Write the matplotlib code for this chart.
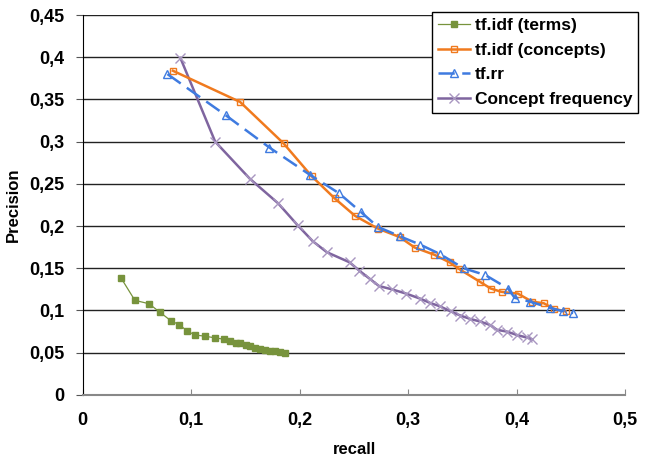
import matplotlib
matplotlib.use("Agg")
import matplotlib.pyplot as plt
from matplotlib.ticker import FuncFormatter

plt.rcParams['font.family'] = ['Liberation Sans', 'DejaVu Sans']

# tf.idf (terms)
terms_r = [0.035, 0.048, 0.061, 0.071, 0.081, 0.089, 0.096, 0.103, 0.113, 0.122,
           0.130, 0.136, 0.141, 0.145, 0.150, 0.154, 0.159, 0.163, 0.168, 0.173,
           0.177, 0.182, 0.186]
terms_p = [0.139, 0.112, 0.108, 0.098, 0.088, 0.083, 0.076, 0.071, 0.0695, 0.0675,
           0.066, 0.064, 0.062, 0.061, 0.059, 0.0575, 0.0555, 0.054, 0.053, 0.052,
           0.0515, 0.051, 0.0497]

# tf.idf (concepts)
conc_r = [0.083, 0.145, 0.185, 0.211, 0.232, 0.251, 0.272, 0.292, 0.306, 0.324,
          0.338, 0.347, 0.366, 0.376, 0.386, 0.401, 0.414, 0.425, 0.434, 0.445]
conc_p = [0.384, 0.347, 0.298, 0.259, 0.233, 0.212, 0.197, 0.187, 0.1745, 0.166,
          0.157, 0.149, 0.134, 0.126, 0.122, 0.120, 0.1105, 0.1085, 0.102, 0.099]

# tf.rr
rr_r = [0.078, 0.132, 0.172, 0.209, 0.236, 0.256, 0.272, 0.292, 0.311, 0.329,
        0.351, 0.371, 0.392, 0.398, 0.412, 0.431, 0.443, 0.452]
rr_p = [0.380, 0.331, 0.293, 0.261, 0.239, 0.217, 0.199, 0.188, 0.178, 0.167,
        0.150, 0.142, 0.126, 0.115, 0.1105, 0.103, 0.099, 0.097]

# Concept frequency
cf_r = [0.090, 0.122, 0.154, 0.180, 0.198, 0.212, 0.225, 0.246, 0.255, 0.265,
        0.273, 0.285, 0.298, 0.311, 0.320, 0.329, 0.339, 0.348, 0.357, 0.366,
        0.375, 0.382, 0.391, 0.400, 0.409, 0.414]
cf_p = [0.399, 0.300, 0.256, 0.227, 0.201, 0.182, 0.169, 0.157, 0.147, 0.137,
        0.129, 0.125, 0.120, 0.114, 0.109, 0.105, 0.099, 0.094, 0.090, 0.087,
        0.083, 0.077, 0.075, 0.071, 0.068, 0.066]

fig = plt.figure(figsize=(6.52, 4.69), dpi=100)
ax = fig.add_axes([0.127, 0.158, 0.832, 0.810])

ax.plot(terms_r, terms_p, color='#77933C', lw=0.9, marker='s', ms=5,
        mfc='#77933C', mec='#77933C', label='tf.idf (terms)', zorder=3)
ax.plot(conc_r, conc_p, color='#F07A1E', lw=1.8, marker='s', ms=5,
        mfc='none', mec='#F07A1E', mew=1, label='tf.idf (concepts)', zorder=4)
ax.plot(rr_r, rr_p, color='#3F7BE0', lw=1.8, ls=(0, (6.5, 3)), marker='^', ms=5.5,
        mfc='none', mec='#3F7BE0', mew=1, label='tf.rr', zorder=5)
ax.plot(cf_r, cf_p, color='#7F659F', lw=1.8, marker='x', ms=7,
        mec='#A896C0', mew=1, label='Concept frequency', zorder=3)

ax.set_xlim(0, 0.5)
ax.set_ylim(0, 0.45)
ax.set_xticks([0, 0.1, 0.2, 0.3, 0.4, 0.5])
ax.set_yticks([i * 0.05 for i in range(10)])
fmt = FuncFormatter(lambda v, p: ('%g' % round(v, 2)).replace('.', ','))
ax.xaxis.set_major_formatter(fmt)
ax.yaxis.set_major_formatter(fmt)
ax.tick_params(axis='both', labelsize=13, colors='black')
ax.tick_params(axis='x', direction='in', length=4, color='#888888', pad=12)
ax.tick_params(axis='y', direction='out', length=5, color='#555555', pad=8)
for lab in ax.get_xticklabels() + ax.get_yticklabels():
    lab.set_fontweight('bold')

ax.grid(axis='y', color='#222222', lw=1)
ax.set_axisbelow(True)
ax.spines['top'].set_visible(False)
ax.spines['right'].set_visible(False)
ax.spines['left'].set_color('black')
ax.spines['bottom'].set_color('#888888')
ax.spines['bottom'].set_linewidth(1.5)

ax.set_xlabel('recall', fontsize=12, fontweight='bold', labelpad=10)
ax.set_ylabel('Precision', fontsize=12, fontweight='bold', labelpad=6)

leg = ax.legend(loc='upper right', bbox_to_anchor=(0.979, 0.975),
                bbox_transform=fig.transFigure, borderaxespad=0, fancybox=False,
                framealpha=1, edgecolor='black', handlelength=1.8,
                borderpad=0.35, labelspacing=0.55, handletextpad=0.3,
                prop={'weight': 'bold', 'size': 12.5})
leg.get_frame().set_linewidth(1)

fig.savefig('out.png', dpi=100)
